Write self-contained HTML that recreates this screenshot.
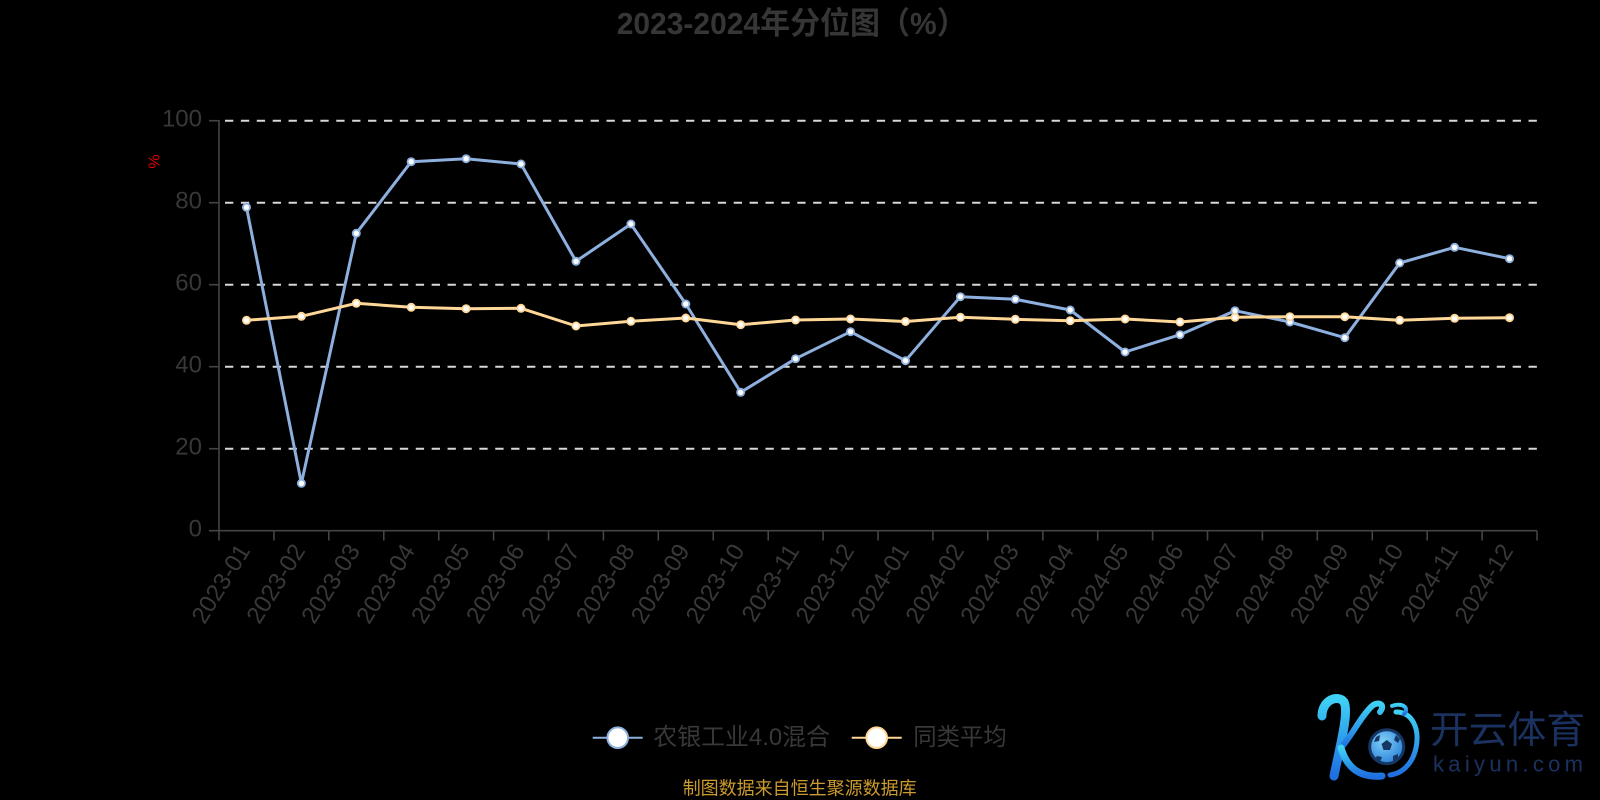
<!DOCTYPE html>
<html>
<head>
<meta charset="utf-8">
<style>
  html,body{margin:0;padding:0;background:#000;}
  body{width:1600px;height:800px;overflow:hidden;}
  svg{display:block;}
  text{font-family:"Liberation Sans","Noto Sans CJK SC",sans-serif;}
</style>
</head>
<body>
<svg width="1600" height="800" viewBox="0 0 1600 800" xmlns="http://www.w3.org/2000/svg">
  <rect x="0" y="0" width="1600" height="800" fill="#000"/>

  <!-- Title -->
  <text x="616.7" y="34" font-size="31" font-weight="bold" fill="#363636" textLength="350" lengthAdjust="spacingAndGlyphs">2023-2024年分位图（%）</text>

  <!-- Grid lines (dashed) -->
  <g stroke="#d8d8d8" stroke-width="2" stroke-dasharray="8.3 7.597" stroke-dashoffset="9.897" fill="none">
    <line x1="219" y1="120.7" x2="1537" y2="120.7"/>
    <line x1="219" y1="202.7" x2="1537" y2="202.7"/>
    <line x1="219" y1="284.7" x2="1537" y2="284.7"/>
    <line x1="219" y1="366.7" x2="1537" y2="366.7"/>
    <line x1="219" y1="448.7" x2="1537" y2="448.7"/>
  </g>

  <!-- Axes -->
  <g stroke="#444" stroke-width="1.6" fill="none">
    <line x1="219" y1="120" x2="219" y2="531"/>
    <line x1="219" y1="530.7" x2="1537" y2="530.7"/>
    <line x1="209" y1="120.7" x2="219" y2="120.7"/>
    <line x1="209" y1="202.7" x2="219" y2="202.7"/>
    <line x1="209" y1="284.7" x2="219" y2="284.7"/>
    <line x1="209" y1="366.7" x2="219" y2="366.7"/>
    <line x1="209" y1="448.7" x2="219" y2="448.7"/>
    <line x1="209" y1="530.7" x2="219" y2="530.7"/>
    <line x1="219" y1="530.7" x2="219" y2="540.5"/>
    <line x1="273.9" y1="530.7" x2="273.9" y2="540.5"/>
    <line x1="328.8" y1="530.7" x2="328.8" y2="540.5"/>
    <line x1="383.8" y1="530.7" x2="383.8" y2="540.5"/>
    <line x1="438.7" y1="530.7" x2="438.7" y2="540.5"/>
    <line x1="493.6" y1="530.7" x2="493.6" y2="540.5"/>
    <line x1="548.5" y1="530.7" x2="548.5" y2="540.5"/>
    <line x1="603.4" y1="530.7" x2="603.4" y2="540.5"/>
    <line x1="658.3" y1="530.7" x2="658.3" y2="540.5"/>
    <line x1="713.3" y1="530.7" x2="713.3" y2="540.5"/>
    <line x1="768.2" y1="530.7" x2="768.2" y2="540.5"/>
    <line x1="823.1" y1="530.7" x2="823.1" y2="540.5"/>
    <line x1="878" y1="530.7" x2="878" y2="540.5"/>
    <line x1="932.9" y1="530.7" x2="932.9" y2="540.5"/>
    <line x1="987.8" y1="530.7" x2="987.8" y2="540.5"/>
    <line x1="1042.8" y1="530.7" x2="1042.8" y2="540.5"/>
    <line x1="1097.7" y1="530.7" x2="1097.7" y2="540.5"/>
    <line x1="1152.6" y1="530.7" x2="1152.6" y2="540.5"/>
    <line x1="1207.5" y1="530.7" x2="1207.5" y2="540.5"/>
    <line x1="1262.4" y1="530.7" x2="1262.4" y2="540.5"/>
    <line x1="1317.3" y1="530.7" x2="1317.3" y2="540.5"/>
    <line x1="1372.3" y1="530.7" x2="1372.3" y2="540.5"/>
    <line x1="1427.2" y1="530.7" x2="1427.2" y2="540.5"/>
    <line x1="1482.1" y1="530.7" x2="1482.1" y2="540.5"/>
    <line x1="1537" y1="530.7" x2="1537" y2="540.5"/>
  </g>

  <!-- Y labels -->
  <g font-size="24" fill="#383838" text-anchor="end">
    <text x="202" y="126.7">100</text>
    <text x="202" y="208.7">80</text>
    <text x="202" y="290.7">60</text>
    <text x="202" y="372.7">40</text>
    <text x="202" y="454.7">20</text>
    <text x="202" y="536.7">0</text>
  </g>

  <!-- Y axis name -->
  <text transform="translate(155,161.5) rotate(-90)" font-size="16" fill="#e00000" text-anchor="middle" dominant-baseline="central">%</text>

  <!-- X labels -->
  <g font-size="24" fill="#383838" text-anchor="end">
    <text transform="translate(251,550.5) rotate(-58)">2023-01</text>
    <text transform="translate(305.9,550.5) rotate(-58)">2023-02</text>
    <text transform="translate(360.8,550.5) rotate(-58)">2023-03</text>
    <text transform="translate(415.7,550.5) rotate(-58)">2023-04</text>
    <text transform="translate(470.6,550.5) rotate(-58)">2023-05</text>
    <text transform="translate(525.5,550.5) rotate(-58)">2023-06</text>
    <text transform="translate(580.5,550.5) rotate(-58)">2023-07</text>
    <text transform="translate(635.4,550.5) rotate(-58)">2023-08</text>
    <text transform="translate(690.3,550.5) rotate(-58)">2023-09</text>
    <text transform="translate(745.2,550.5) rotate(-58)">2023-10</text>
    <text transform="translate(800.1,550.5) rotate(-58)">2023-11</text>
    <text transform="translate(855,550.5) rotate(-58)">2023-12</text>
    <text transform="translate(910,550.5) rotate(-58)">2024-01</text>
    <text transform="translate(964.9,550.5) rotate(-58)">2024-02</text>
    <text transform="translate(1019.8,550.5) rotate(-58)">2024-03</text>
    <text transform="translate(1074.7,550.5) rotate(-58)">2024-04</text>
    <text transform="translate(1129.6,550.5) rotate(-58)">2024-05</text>
    <text transform="translate(1184.5,550.5) rotate(-58)">2024-06</text>
    <text transform="translate(1239.5,550.5) rotate(-58)">2024-07</text>
    <text transform="translate(1294.4,550.5) rotate(-58)">2024-08</text>
    <text transform="translate(1349.3,550.5) rotate(-58)">2024-09</text>
    <text transform="translate(1404.2,550.5) rotate(-58)">2024-10</text>
    <text transform="translate(1459.1,550.5) rotate(-58)">2024-11</text>
    <text transform="translate(1514,550.5) rotate(-58)">2024-12</text>
  </g>

  <!-- Blue series -->
  <polyline fill="none" stroke="#8eb0de" stroke-width="3" stroke-linejoin="round"
    points="246.5,207.3 301.4,483.3 356.3,233.3 411.2,161.7 466.1,158.7 521.0,164 576.0,261.3 630.9,224 685.8,304 740.7,392.3 795.6,358.7 850.5,331.7 905.5,360.7 960.4,296.7 1015.3,299.3 1070.2,310 1125.1,352 1180.0,334.7 1235.0,310.7 1289.9,322 1344.8,337.7 1399.7,263 1454.6,247.3 1509.5,258.7"/>
  <g fill="#fff" stroke="#8eb0de" stroke-width="1.8">
    <circle cx="246.5" cy="207.3" r="3.6"/>
    <circle cx="301.4" cy="483.3" r="3.6"/>
    <circle cx="356.3" cy="233.3" r="3.6"/>
    <circle cx="411.2" cy="161.7" r="3.6"/>
    <circle cx="466.1" cy="158.7" r="3.6"/>
    <circle cx="521.0" cy="164" r="3.6"/>
    <circle cx="576.0" cy="261.3" r="3.6"/>
    <circle cx="630.9" cy="224" r="3.6"/>
    <circle cx="685.8" cy="304" r="3.6"/>
    <circle cx="740.7" cy="392.3" r="3.6"/>
    <circle cx="795.6" cy="358.7" r="3.6"/>
    <circle cx="850.5" cy="331.7" r="3.6"/>
    <circle cx="905.5" cy="360.7" r="3.6"/>
    <circle cx="960.4" cy="296.7" r="3.6"/>
    <circle cx="1015.3" cy="299.3" r="3.6"/>
    <circle cx="1070.2" cy="310" r="3.6"/>
    <circle cx="1125.1" cy="352" r="3.6"/>
    <circle cx="1180.0" cy="334.7" r="3.6"/>
    <circle cx="1235.0" cy="310.7" r="3.6"/>
    <circle cx="1289.9" cy="322" r="3.6"/>
    <circle cx="1344.8" cy="337.7" r="3.6"/>
    <circle cx="1399.7" cy="263" r="3.6"/>
    <circle cx="1454.6" cy="247.3" r="3.6"/>
    <circle cx="1509.5" cy="258.7" r="3.6"/>
  </g>

  <!-- Orange series -->
  <polyline fill="none" stroke="#ffd797" stroke-width="3" stroke-linejoin="round"
    points="246.5,320.3 301.4,316.3 356.3,303.3 411.2,307.3 466.1,308.7 521.0,308.3 576.0,326 630.9,321.3 685.8,318 740.7,324.7 795.6,320 850.5,319 905.5,321.5 960.4,317.3 1015.3,319.3 1070.2,320.7 1125.1,319 1180.0,322 1235.0,317.3 1289.9,316.7 1344.8,316.7 1399.7,320.3 1454.6,318.3 1509.5,317.7"/>
  <g fill="#fff" stroke="#ffd797" stroke-width="1.8">
    <circle cx="246.5" cy="320.3" r="3.6"/>
    <circle cx="301.4" cy="316.3" r="3.6"/>
    <circle cx="356.3" cy="303.3" r="3.6"/>
    <circle cx="411.2" cy="307.3" r="3.6"/>
    <circle cx="466.1" cy="308.7" r="3.6"/>
    <circle cx="521.0" cy="308.3" r="3.6"/>
    <circle cx="576.0" cy="326" r="3.6"/>
    <circle cx="630.9" cy="321.3" r="3.6"/>
    <circle cx="685.8" cy="318" r="3.6"/>
    <circle cx="740.7" cy="324.7" r="3.6"/>
    <circle cx="795.6" cy="320" r="3.6"/>
    <circle cx="850.5" cy="319" r="3.6"/>
    <circle cx="905.5" cy="321.5" r="3.6"/>
    <circle cx="960.4" cy="317.3" r="3.6"/>
    <circle cx="1015.3" cy="319.3" r="3.6"/>
    <circle cx="1070.2" cy="320.7" r="3.6"/>
    <circle cx="1125.1" cy="319" r="3.6"/>
    <circle cx="1180.0" cy="322" r="3.6"/>
    <circle cx="1235.0" cy="317.3" r="3.6"/>
    <circle cx="1289.9" cy="316.7" r="3.6"/>
    <circle cx="1344.8" cy="316.7" r="3.6"/>
    <circle cx="1399.7" cy="320.3" r="3.6"/>
    <circle cx="1454.6" cy="318.3" r="3.6"/>
    <circle cx="1509.5" cy="317.7" r="3.6"/>
  </g>

  <!-- Legend -->
  <line x1="592.7" y1="737.7" x2="642.7" y2="737.7" stroke="#8eb0de" stroke-width="2"/>
  <circle cx="617.7" cy="737.7" r="10.3" fill="#fff" stroke="#8eb0de" stroke-width="2"/>
  <text x="653.3" y="745" font-size="24" fill="#383838" textLength="176.7" lengthAdjust="spacingAndGlyphs">农银工业4.0混合</text>

  <line x1="851.7" y1="737.7" x2="901.7" y2="737.7" stroke="#ffd797" stroke-width="2"/>
  <circle cx="876.7" cy="737.7" r="10.3" fill="#fff" stroke="#ffd797" stroke-width="2"/>
  <text x="913.3" y="745" font-size="24" fill="#383838" textLength="93.4" lengthAdjust="spacingAndGlyphs">同类平均</text>

  <!-- Footer -->
  <text x="682.7" y="794.5" font-size="18" fill="#cc9a2e" textLength="234" lengthAdjust="spacingAndGlyphs">制图数据来自恒生聚源数据库</text>

  <!-- Logo -->
  <defs>
    <linearGradient id="kg" x1="0" y1="0" x2="0" y2="1">
      <stop offset="0" stop-color="#3fd2f5"/>
      <stop offset="1" stop-color="#1f6fe0"/>
    </linearGradient>
    <radialGradient id="bg" cx="0.4" cy="0.35" r="0.7">
      <stop offset="0" stop-color="#7fd0f7"/>
      <stop offset="1" stop-color="#2a7fd8"/>
    </radialGradient>
  </defs>
  <g fill="none" stroke="url(#kg)" stroke-linecap="round">
    <path d="M1322,716 C1322,700 1338,694 1344,702 C1349,712 1341,742 1334,776" stroke-width="9"/>
    <path d="M1341,748 C1352,735 1362,715 1372,706 C1378,701 1386,704 1380,712" stroke-width="6"/>
    <path d="M1341,748 C1347,768 1360,778 1382,776" stroke-width="7"/>
    <path d="M1396,712 C1412,712 1420,728 1416,748 C1412,766 1400,774 1390,775" stroke-width="5"/>
    <path d="M1392,706 C1402,702 1410,708 1404,714" stroke-width="4"/>
  </g>
  <circle cx="1386.7" cy="746.7" r="17" fill="url(#bg)" stroke="#163764" stroke-width="3"/>
  <g fill="#163764">
    <polygon points="1386.7,740 1392,744 1390,750 1383.5,750 1381.5,744"/>
    <polygon points="1376,737 1380,735 1379,741 1374,742"/>
    <polygon points="1396,735 1400,739 1398,743 1394,740"/>
    <polygon points="1377,756 1382,757 1380,762 1375,759"/>
    <polygon points="1393,756 1398,754 1398,760 1393,762"/>
  </g>
  <text x="1430" y="743" font-size="38" fill="#1b3260" textLength="155" lengthAdjust="spacingAndGlyphs">开云体育</text>
  <text x="1433" y="771.5" font-size="22" fill="#1b3260" textLength="150" lengthAdjust="spacing">kaiyun.com</text>
</svg>
</body>
</html>
